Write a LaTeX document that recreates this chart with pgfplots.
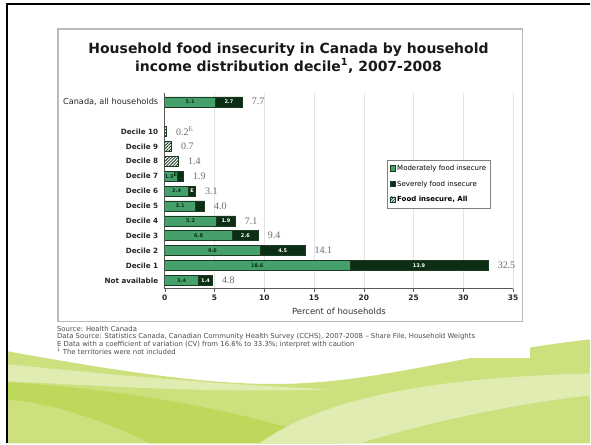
\documentclass[border=0pt]{standalone}
\usepackage{pgfplots}
\pgfplotsset{compat=1.18}
\usepackage{pgfplotstable}
\usetikzlibrary{patterns,patterns.meta}
\usepackage{fontspec}
\setmainfont{DejaVu Sans}
\newfontfamily\serifnum{Liberation Serif}
\definecolor{modg}{HTML}{46A06C}
\definecolor{sevg}{HTML}{0B2E14}
\definecolor{barline}{HTML}{1C3A22}
\definecolor{wavebase}{HTML}{CDE07E}
\definecolor{wavepale}{HTML}{E1ECB3}
\definecolor{wavesat}{HTML}{BED85C}
\newcommand\E{\textsuperscript{E}}

\pgfplotstableread{
y m s
0 5.1 2.7
5 1.3 0.6
6 2.4 0.7
7 3.1 0.9
8 5.2 1.9
9 6.8 2.6
10 9.6 4.5
11 18.6 13.9
12 3.4 1.4
}\stackdata

\pgfplotstableread{
y v
2 0.2
3 0.7
4 1.4
}\hatchdata

\pgfplotstableread{
x y lab
7.8 0 7.7
0.2 2 0.2\E
0.7 3 0.7
1.4 4 1.4
1.9 5 1.9
3.1 6 3.1
4.0 7 4.0
7.1 8 7.1
9.4 9 9.4
14.1 10 14.1
32.5 11 32.5
4.8 12 4.8
}\totals

\pgfplotstableread{
x y lab
2.55 0 5.1
0.65 5 1.3\E
1.2 6 2.4
1.55 7 3.1
2.6 8 5.2
3.4 9 6.8
4.8 10 9.6
9.3 11 18.6
1.7 12 3.4
}\modlabels

\pgfplotstableread{
x y lab
6.45 0 2.7
2.75 6 E
6.15 8 1.9
8.1 9 2.6
11.85 10 4.5
25.55 11 13.9
4.1 12 1.4
}\sevlabels

\begin{document}
\begin{tikzpicture}[x=1pt,y=1pt]
\fill[white] (0,0) rectangle (591,444);
% green waves
\fill[wavebase] (8,0) -- (8,92) .. controls (120,72) and (220,56) .. (300,60) .. controls (390,64) and (480,92) .. (591,104) -- (591,0) -- cycle;
\fill[wavepale] (8,79) .. controls (100,70) and (200,60) .. (330,54) .. controls (200,50) and (100,58) .. (8,62) -- cycle;
\fill[wavesat] (8,61) .. controls (100,56) and (220,40) .. (340,0) -- (150,0) .. controls (100,25) and (50,40) .. (8,44) -- cycle;
\fill[wavepale] (260,0) .. controls (330,50) and (450,66) .. (591,70) -- (591,48) .. controls (520,40) and (440,24) .. (360,0) -- cycle;
% footnote area
\fill[white] (52,85) rectangle (531,123);
% chart box
\draw[gray!55, line width=1.2pt, fill=white] (58,122) rectangle (523,415);
% slide frame
\draw[black, line width=2pt] (7,0) -- (7,440) -- (591,440);
% title
\node[font=\bfseries\fontsize{14}{18}\selectfont, align=center, text=black!90] at (289,386) {Household food insecurity in Canada by household\\income distribution decile\textsuperscript{1}, 2007-2008};
% footnotes
\begin{scope}[every node/.style={anchor=west, inner sep=0pt, font=\fontsize{6.9}{7}\selectfont, text=black!70}]
\node at (57,115) {Source: Health Canada};
\node at (57,107) {Data Source: Statistics Canada, Canadian Community Health Survey (CCHS), 2007-2008 -- Share File, Household Weights};
\node at (57,99) {E Data with a coefficient of variation (CV) from 16.6\% to 33.3\%; interpret with caution};
\node at (57,92) {\textsuperscript{1} The territories were not included};
\end{scope}

\begin{axis}[
  at={(165pt,155pt)}, anchor=south west, scale only axis, width=349pt, height=196pt,
  xbar stacked, bar width=10pt,
  xmin=0, xmax=35, ymin=-0.6, ymax=12.55, y dir=reverse,
  axis x line*=bottom, axis y line*=left,
  axis line style={gray!70!black, line width=0.6pt},
  xtick={0,5,...,35}, xmajorgrids, grid style={gray!22, line width=0.6pt},
  tick align=outside, xtick style={gray!70!black}, major tick length=3pt,
  ytick={0,2,3,4,5,6,7,8,9,10,11,12},
  yticklabels={{\fontsize{8.2}{9}\selectfont Canada, all households},\textbf{Decile 10},\textbf{Decile 9},\textbf{Decile 8},\textbf{Decile 7},\textbf{Decile 6},\textbf{Decile 5},\textbf{Decile 4},\textbf{Decile 3},\textbf{Decile 2},\textbf{Decile 1},\textbf{Not available}},
  ytick style={draw=none},
  yticklabel style={font=\fontsize{7.2}{8}\selectfont, text=black!85},
  xticklabel style={font=\bfseries\fontsize{7.5}{8}\selectfont, text=black!85},
  /pgf/number format/assume math mode=true,
  xlabel={Percent of households}, xlabel style={font=\fontsize{8.5}{9}\selectfont, text=black!80, yshift=-1pt},
  legend style={at={(0.639,0.658)}, anchor=north west, draw=gray, font=\fontsize{7}{8}\selectfont, row sep=5pt, inner xsep=2pt, inner ysep=3pt},
  legend cell align=left,
  legend image code/.code={\draw[#1] (0pt,-2.5pt) rectangle (5pt,3pt);},
]
\addplot[fill=modg, draw=barline, line width=0.5pt] table[x=m,y=y]{\stackdata};
\addlegendentry{Moderately food insecure}
\addplot[fill=sevg, draw=barline, line width=0.5pt] table[x=s,y=y]{\stackdata};
\addlegendentry{Severely food insecure}
\addlegendimage{draw=barline, pattern={Lines[angle=45, distance=2pt, line width=0.7pt]}, pattern color=sevg}
\addlegendentry{\textbf{Food insecure, All}}
\end{axis}

\begin{axis}[
  at={(165pt,155pt)}, anchor=south west, scale only axis, width=349pt, height=196pt,
  xmin=0, xmax=35, ymin=-0.6, ymax=12.55, y dir=reverse, hide axis]
\addplot[xbar, bar shift=0pt, bar width=10pt, draw=barline, line width=0.5pt, pattern={Lines[angle=45, distance=2.2pt, line width=0.8pt]}, pattern color=sevg] table[x=v,y=y]{\hatchdata};
\addplot[draw=none, mark=none, point meta=explicit symbolic, nodes near coords, nodes near coords style={anchor=west, xshift=6pt, font=\serifnum\fontsize{10}{10}\selectfont, text=gray!85!black}] table[x=x,y=y,meta=lab]{\totals};
\addplot[draw=none, mark=none, point meta=explicit symbolic, nodes near coords, nodes near coords style={anchor=center, font=\bfseries\fontsize{5}{5}\selectfont, text=sevg}] table[x=x,y=y,meta=lab]{\modlabels};
\addplot[draw=none, mark=none, point meta=explicit symbolic, nodes near coords, nodes near coords style={anchor=center, font=\bfseries\fontsize{5}{5}\selectfont, text=white}] table[x=x,y=y,meta=lab]{\sevlabels};
\end{axis}
\end{tikzpicture}
\end{document}
